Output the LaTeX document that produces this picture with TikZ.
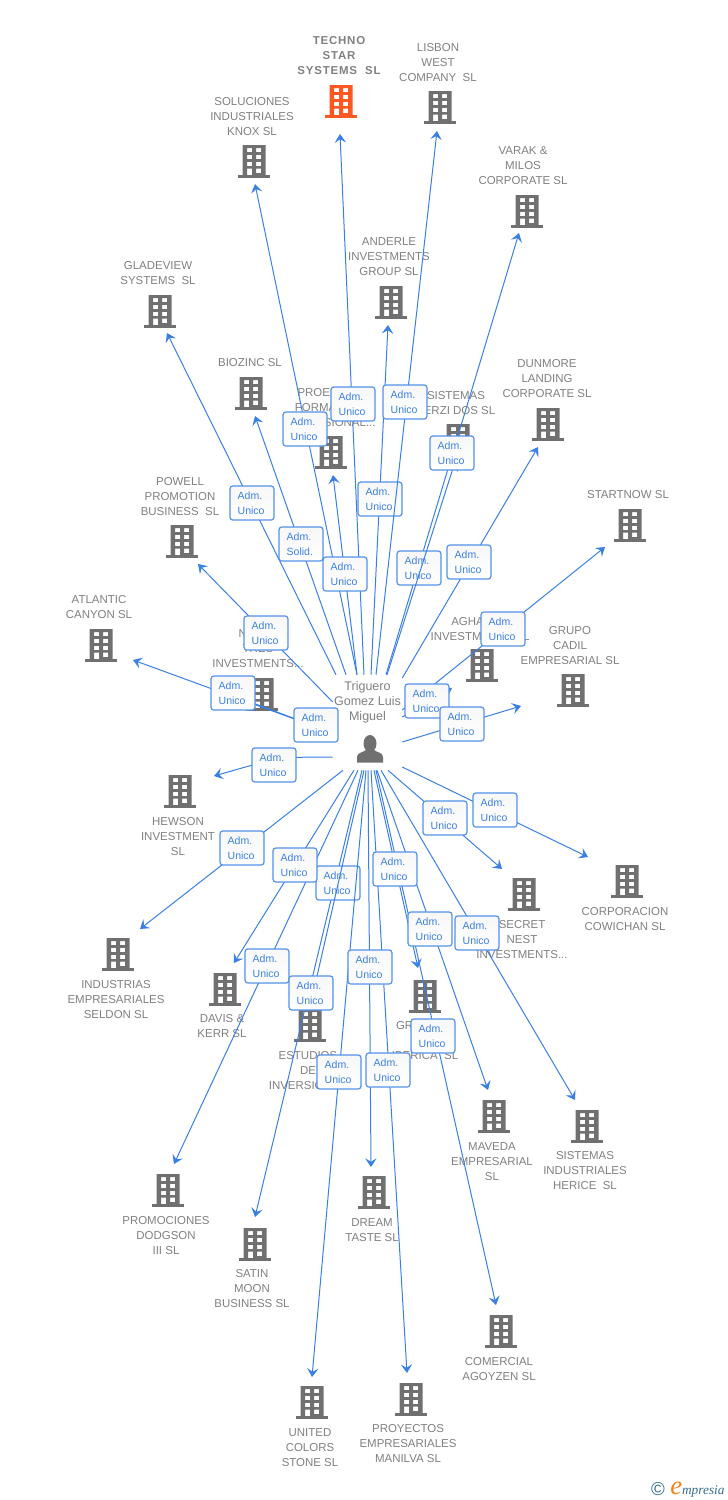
\documentclass[tikz,border=0pt]{standalone}
\usepackage{fontspec}
\setmainfont{Liberation Sans}
\newfontfamily\logofont{Liberation Serif}
\usepackage{tikz}
\usetikzlibrary{arrows.meta,calc}

\definecolor{linkblue}{RGB}{58,128,226}
\definecolor{boxblue}{RGB}{84,146,232}
\definecolor{bldgray}{RGB}{112,112,112}
\definecolor{bldorange}{RGB}{255,87,34}
\definecolor{labelgray}{RGB}{128,128,128}
\definecolor{logoteal}{RGB}{50,110,140}
\definecolor{logoorange}{RGB}{240,130,30}

\tikzset{
  link/.style={draw=linkblue,line width=0.75pt,-{Stealth[length=6.5pt,width=8.5pt,inset=2.6pt]}},
  adm/.style={draw=boxblue,line width=0.9pt,rounded corners=2pt,top color=black!3,bottom color=white,
    text=linkblue,font=\fontsize{7.9}{11.25}\selectfont,align=left,text width=21.5pt,inner xsep=5.7pt,inner ysep=0pt,minimum height=25.5pt},
  cotext/.style={text=labelgray,font=\fontsize{8.6}{11.25}\selectfont,align=center,inner sep=0pt,yshift=-0.75pt},
  grayBuilding/.style={fill=bldgray},
  orangeBuilding/.style={fill=bldorange},
  building/.pic={
    \path [yscale=-1,pic actions,even odd rule] (-11.5,-16) rectangle (11.5,14)
      (-7,-13) rectangle (-2,-8.8) (2,-13) rectangle (7,-8.8)
      (-7,-6.2) rectangle (-2,-1.8) (2,-6.2) rectangle (7,-1.8)
      (-7,0.8) rectangle (-2,5.2) (2,0.8) rectangle (7,5.2)
      (-7,7.6) rectangle (-2,14) (2,7.6) rectangle (7,12);
    \path [yscale=-1,pic actions] (-16,14) rectangle (16,16.5);
  }
}

\begin{document}
\begin{tikzpicture}[x=0.75pt,y=0.75pt,yscale=-1,xscale=1]
\useasboundingbox (0,0) rectangle (728,1500);

% Buildings
\pic [orangeBuilding] at (341,101) {building};
\pic [grayBuilding] at (440,107) {building};
\pic [grayBuilding] at (254,161) {building};
\pic [grayBuilding] at (527,211) {building};
\pic [grayBuilding] at (391,302) {building};
\pic [grayBuilding] at (160,311) {building};
\pic [grayBuilding] at (251,393) {building};
\pic [grayBuilding] at (331,452) {building};
\pic [grayBuilding] at (458,440) {building};
\pic [grayBuilding] at (548,424) {building};
\pic [grayBuilding] at (630,525) {building};
\pic [grayBuilding] at (482,665) {building};
\pic [grayBuilding] at (573,690) {building};
\pic [grayBuilding] at (182,541) {building};
\pic [grayBuilding] at (101,645) {building};
\pic [grayBuilding] at (262,694) {building};
\pic [grayBuilding] at (180,791) {building};
\pic [grayBuilding] at (118,954) {building};
\pic [grayBuilding] at (225,989) {building};
\pic [grayBuilding] at (168,1190) {building};
\pic [grayBuilding] at (255,1244) {building};
\pic [grayBuilding] at (310,1025) {building};
\pic [grayBuilding] at (312,1402) {building};
\pic [grayBuilding] at (374,1192) {building};
\pic [grayBuilding] at (411,1399) {building};
\pic [grayBuilding] at (425,996) {building};
\pic [grayBuilding] at (494,1116) {building};
\pic [grayBuilding] at (501,1331) {building};
\pic [grayBuilding] at (587,1126) {building};
\pic [grayBuilding] at (524,894) {building};
\pic [grayBuilding] at (627,881) {building};

% Text Node
\node [cotext,font=\fontsize{8.6}{11.25}\selectfont\bfseries\addfontfeatures{LetterSpace=7}] (txtTechno) at (339,55) {TECHNO\\STAR\\SYSTEMS~~SL};
\node [cotext] (txtLisbon) at (438,62) {LISBON\\WEST\\COMPANY~~SL};
\node [cotext] (txtSoluciones) at (252,116) {SOLUCIONES\\INDUSTRIALES\\KNOX SL};
\node [cotext] (txtVarak) at (523,165) {VARAK \&\\MILOS\\CORPORATE SL};
\node [cotext] (txtAnderle) at (389,256) {ANDERLE\\INVESTMENTS\\GROUP SL};
\node [cotext] (txtGladeview) at (158,272.5) {GLADEVIEW\\SYSTEMS~~SL};
\node [cotext] (txtBiozinc) at (250,362) {BIOZINC SL};
\node [cotext] (txtProec) at (330,407) {PROEDUCA\\FORMACION\\PROFESIONAL...};
\node [cotext] (txtSistemas) at (456,402.5) {SISTEMAS\\TERZI DOS SL};
\node [cotext] (txtDunmore) at (547,378) {DUNMORE\\LANDING\\CORPORATE SL};
\node [cotext] (txtStartnow) at (628,494) {STARTNOW SL};
\node [cotext] (txtAgha) at (480,628.5) {AGHADOE\\INVESTMENTS SL};
\node [cotext] (txtGrupo) at (570,645) {GRUPO\\CADIL\\EMPRESARIAL SL};
\node [cotext] (txtPowell) at (180,496) {POWELL\\PROMOTION\\BUSINESS~~SL};
\node [cotext] (txtAtlantic) at (99,606.5) {ATLANTIC\\CANYON SL};
\node [cotext] (txtNovel) at (258,648) {NOVEL\\TRES\\INVESTMENTS...};
\node [cotext] (txtHewson) at (178,836) {HEWSON\\INVESTMENT\\SL};
\node [cotext] (txtIndustrias) at (116,999) {INDUSTRIAS\\EMPRESARIALES\\SELDON SL};
\node [cotext] (txtDavis) at (222,1025.5) {DAVIS \&\\KERR SL};
\node [cotext] (txtPromociones) at (166,1235) {PROMOCIONES\\DODGSON\\III SL};
\node [cotext] (txtSatin) at (252,1288) {SATIN\\MOON\\BUSINESS SL};
\node [cotext] (txtEstudios) at (308,1070) {ESTUDIOS\\DE\\INVERSIONES};
\node [cotext] (txtUnited) at (310,1447) {UNITED\\COLORS\\STONE SL};
\node [cotext] (txtDream) at (372,1229.5) {DREAM\\TASTE SL};
\node [cotext] (txtProyectos) at (408,1443) {PROYECTOS\\EMPRESARIALES\\MANILVA SL};
\node [cotext] (txtGranero) at (425,1040) {GRANERO\\DE\\IBERICA~~SL};
\node [cotext] (txtMaveda) at (492,1161) {MAVEDA\\EMPRESARIAL\\SL};
\node [cotext] (txtComercial) at (499,1368.5) {COMERCIAL\\AGOYZEN SL};
\node [cotext] (txtHerice) at (585,1170) {SISTEMAS\\INDUSTRIALES\\HERICE~~SL};
\node [cotext] (txtSecret) at (522,939) {SECRET\\NEST\\INVESTMENTS...};
\node [cotext] (txtCorporacion) at (625,918.5) {CORPORACION\\COWICHAN SL};

% Person
\node [cotext,font=\fontsize{9.4}{11.25}\selectfont] (txtHub) at (367.5,701) {Triguero\\Gomez Luis\\Miguel};
\node [inner sep=0pt,minimum width=51.75pt,minimum height=71.25pt] (hub) at (367.5,722.5) {};
\fill [bldgray] (370,743.5) ellipse (6.5 and 8.5);
\fill [bldgray] (357,762.5) -- (357,757) .. controls (357,752.5) and (363,752.5) .. (366,750) -- (374,750) .. controls (377,752.5) and (383,752.5) .. (383,757) -- (383,762.5) -- cycle;

% Free ends
\coordinate (tipTechno) at (340,134);
\coordinate (tipLisbon) at (437,131);
\coordinate (tipSoluciones) at (255,184);
\coordinate (tipVarak) at (519,233);
\coordinate (tipAnderle) at (388,325);
\coordinate (tipGladeview) at (167,333);
\coordinate (tipBiozinc) at (255,416);
\coordinate (tipProec) at (333,475);
\coordinate (tipSistemas) at (455,462);
\coordinate (tipDunmore) at (538,447);
\coordinate (tipStartnow) at (605,547);
\coordinate (tipAgha) at (452,688);
\coordinate (tipGrupo) at (521,706);
\coordinate (tipPowell) at (198,564);
\coordinate (tipAtlantic) at (133,660);
\coordinate (tipNovel) at (245,700);
\coordinate (tipHewson) at (214,776);
\coordinate (tipIndustrias) at (140,929);
\coordinate (tipDavis) at (234,963);
\coordinate (tipPromociones) at (174,1164);
\coordinate (tipSatin) at (255,1217);
\coordinate (tipEstudios) at (315,985);
\coordinate (tipUnited) at (312,1377);
\coordinate (tipDream) at (371,1167);
\coordinate (tipProyectos) at (407,1373);
\coordinate (tipGranero) at (418,968);
\coordinate (tipMaveda) at (488,1090);
\coordinate (tipComercial) at (496,1305);
\coordinate (tipHerice) at (575,1100);
\coordinate (tipSecret) at (502,869);
\coordinate (tipCorporacion) at (588,857);

% Connectors and boxes under the later lines
\draw [link] ($(hub.north)+(3.5,0)$) -- (tipAnderle);
\node [adm] (boxAnderle) at (380,499) {Adm.\\Unico};
\draw [link] ($(hub.north)+(18.5,0)$) -- (tipVarak);
\node [adm] (boxVarak) at (419,568) {Adm.\\Unico};
\draw [link] ($(hub.south)+(-5.5,0)$) -- (tipSatin);
\node [adm] (boxSatin) at (338,883) {Adm.\\Unico};

%Straight Lines
\draw [link] ($(hub.north)+(-3.5,0)$) -- (tipTechno);
\draw [link] ($(hub.north)+(8.5,0)$) -- (tipLisbon);
\draw [link] ($(hub.north)+(-10.5,0)$) -- (tipSoluciones);
\draw [link] ($(hub.north)+(-31.5,0)$) -- (tipGladeview);
\draw [link] ($(hub.north)+(-21.5,0)$) -- (tipBiozinc);
\draw [link] ($(hub.north)+(-10.5,0)$) -- (tipProec);
\draw [link] ($(hub.north)+(19.5,0)$) -- (tipSistemas);
\draw [link] ($(hub.east)+(0,-44.5)$) -- (tipDunmore);
\draw [link] ($(hub.east)+(0,-12.5)$) -- (tipStartnow);
\draw [link] ($(hub.east)+(0,-5.5)$) -- (tipAgha);
\draw [link] ($(hub.east)+(0,19.5)$) -- (tipGrupo);
\draw [link] ($(hub.west)+(0,-20.5)$) -- (tipPowell);
\draw [link] ($(hub.west)+(0,10.5)$) -- (tipAtlantic);
\draw [link] ($(hub.west)+(0,10.5)$) -- (tipNovel);
\draw [link] ($(hub.west)+(0,34.5)$) .. controls (280,757) .. (tipHewson);
\draw [link] ($(hub.south)+(-24.5,0)$) -- (tipIndustrias);
\draw [link] ($(hub.south)+(-13.5,0)$) -- (tipDavis);
\draw [link] ($(hub.south)+(-9.5,0)$) -- (tipPromociones);
\draw [link] ($(hub.south)+(-3.5,0)$) -- (tipEstudios);
\draw [link] ($(hub.south)+(-1.5,0)$) -- (tipUnited);
\draw [link] ($(hub.south)+(0.5,0)$) -- (tipDream);
\draw [link] ($(hub.south)+(3.5,0)$) -- (tipProyectos);
\draw [link] ($(hub.south)+(6.5,0)$) -- (tipGranero);
\draw [link] ($(hub.south)+(9.5,0)$) -- (tipMaveda);
\draw [link] ($(hub.south)+(8.5,0)$) -- (tipComercial);
\draw [link] ($(hub.south)+(13.5,0)$) -- (tipHerice);
\draw [link] ($(hub.south)+(20.5,0)$) -- (tipSecret);
\draw [link] ($(hub.east)+(0,44.5)$) -- (tipCorporacion);

% Boxes
\node [adm] (boxTechno) at (353,404) {Adm.\\Unico};
\node [adm] (boxLisbon) at (405,402) {Adm.\\Unico};
\node [adm] (boxSoluciones) at (305,429) {Adm.\\Unico};
\node [adm] (boxSistemas) at (452,453) {Adm.\\Unico};
\node [adm] (boxGladeview) at (252,503) {Adm.\\Unico};
\node [adm] (boxBiozinc) at (301,544) {Adm.\\Solid.};
\node [adm] (boxProec) at (345,574) {Adm.\\Unico};
\node [adm] (boxDunmore) at (469,562) {Adm.\\Unico};
\node [adm] (boxStartnow) at (503,629) {Adm.\\Unico};
\node [adm] (boxAgha) at (427,701) {Adm.\\Unico};
\node [adm] (boxGrupo) at (462,724) {Adm.\\Unico};
\node [adm] (boxPowell) at (266,633) {Adm.\\Unico};
\node [adm] (boxAtlantic) at (233,693) {Adm.\\Unico};
\node [adm] (boxNovel) at (316,725) {Adm.\\Unico};
\node [adm] (boxHewson) at (274,765) {Adm.\\Unico};
\node [adm] (boxIndustrias) at (242,848) {Adm.\\Unico};
\node [adm] (boxDavis) at (295,865) {Adm.\\Unico};
\node [adm] (boxPromociones) at (267,966) {Adm.\\Unico};
\node [adm] (boxEstudios) at (311,993) {Adm.\\Unico};
\node [adm] (boxUnited) at (339,1072) {Adm.\\Unico};
\node [adm] (boxDream) at (370,967) {Adm.\\Unico};
\node [adm] (boxProyectos) at (388,1070) {Adm.\\Unico};
\node [adm] (boxGranero) at (395,869) {Adm.\\Unico};
\node [adm] (boxMaveda) at (430,929) {Adm.\\Unico};
\node [adm] (boxComercial) at (433,1036) {Adm.\\Unico};
\node [adm] (boxHerice) at (477,933) {Adm.\\Unico};
\node [adm] (boxSecret) at (445,818) {Adm.\\Unico};
\node [adm] (boxCorporacion) at (495,810) {Adm.\\Unico};

% Logo
\node [inner sep=0pt,text=logoteal,font=\fontsize{14}{14}\selectfont] (logoMark) at (658,1489) {©};
\node [inner sep=0pt,anchor=west,font=\logofont\itshape\fontsize{10}{12}\selectfont,text=logoteal] (logoName) at (670,1489.5) {\textcolor{logoorange}{\fontsize{20}{12}\selectfont e}mpresia};

\end{tikzpicture}
\end{document}
